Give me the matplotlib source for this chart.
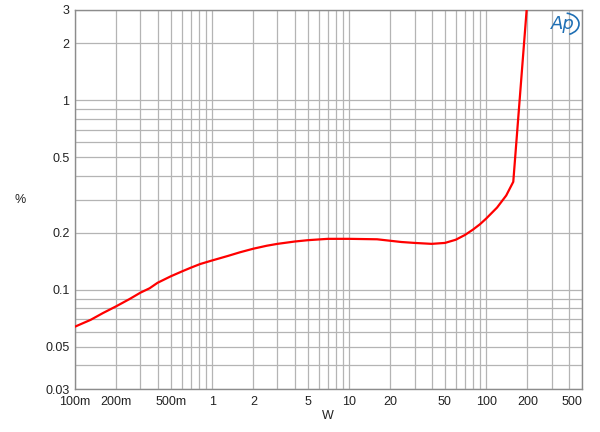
import numpy as np
import matplotlib
matplotlib.use("Agg")
import matplotlib.pyplot as plt
from matplotlib.patches import Arc

power_w = [0.1, 0.13, 0.16, 0.2, 0.25, 0.3, 0.35, 0.4, 0.5, 0.6, 0.7, 0.82, 1.0,
           1.3, 1.6, 2.0, 2.5, 3.0, 4.0, 5.0, 7.0, 10.0, 16.0, 24.0, 30.0, 40.0,
           50.0, 60.0, 70.0, 80.0, 90.0, 100.0, 120.0, 140.0, 157.6, 200.0]
thdn_pct = [0.064, 0.0695, 0.0755, 0.082, 0.0895, 0.0967, 0.102, 0.109, 0.118,
            0.125, 0.131, 0.137, 0.143, 0.151, 0.158, 0.165, 0.171, 0.175, 0.180,
            0.183, 0.186, 0.186, 0.185, 0.179, 0.177, 0.175, 0.177, 0.184, 0.195,
            0.208, 0.222, 0.238, 0.272, 0.315, 0.372, 3.41]

x_ticks = [0.1, 0.2, 0.5, 1, 2, 5, 10, 20, 50, 100, 200, 500]
x_tick_labels = ["100m", "200m", "500m", "1", "2", "5", "10", "20", "50", "100", "200", "500"]
y_ticks = [0.03, 0.05, 0.1, 0.2, 0.5, 1, 2, 3]
y_tick_labels = ["0.03", "0.05", "0.1", "0.2", "0.5", "1", "2", "3"]

plt.rcParams['font.family'] = ['Liberation Sans', 'DejaVu Sans']

fig = plt.figure(figsize=(6.0, 4.32), dpi=100)
ax = fig.add_axes([75/600, 1-389/432, (582-75)/600, (389-10)/432])
ax.set_xscale('log')
ax.set_yscale('log')
ax.set_xlim(0.1, 500)
ax.set_ylim(0.03, 3)

grid_c = '#b4b4b4'
xg = [m * d for d in (0.1, 1, 10, 100) for m in range(1, 10) if m * d <= 500]
yg = [m * d for d in (0.01, 0.1, 1) for m in range(1, 10) if 0.03 <= m * d <= 3]
for v in xg:
    ax.axvline(v, color=grid_c, lw=0.9, zorder=1)
for v in yg:
    ax.axhline(v, color=grid_c, lw=0.9, zorder=1)

ax.plot(power_w, thdn_pct, color='#ff0000', lw=1.6, zorder=3, clip_on=True,
        solid_joinstyle='round')

ax.set_xticks(x_ticks)
ax.set_xticklabels(x_tick_labels)
ax.set_yticks(y_ticks)
ax.set_yticklabels(y_tick_labels)
ax.minorticks_off()
ax.tick_params(axis='both', length=0, labelsize=9, colors='#222222')
ax.tick_params(axis='x', pad=5)
ax.tick_params(axis='y', pad=4)
labs = ax.get_xticklabels()
labs[-1].set_horizontalalignment('right')
labs[-1].set_x(500)

for s in ax.spines.values():
    s.set_color('#8c8c8c')
    s.set_linewidth(1.0)

fig.text(20/600, 1-200/432, '%', ha='center', va='center', fontsize=9, color='#222222')
fig.text(328/600, 1-416/432, 'W', ha='center', va='center', fontsize=9, color='#222222')

# AP logo
fig.text(563/600, 1-24/432, 'Ap', ha='center', va='center', fontsize=13,
         style='italic', color='#1f6fb4', family=['DejaVu Sans'])
arc = Arc((564/600, 1-24/432), 30/600, 22/432, angle=0, theta1=-70, theta2=80,
          color='#1f6fb4', lw=1.2, transform=fig.transFigure)
fig.add_artist(arc)

fig.savefig('out.png', dpi=100)
